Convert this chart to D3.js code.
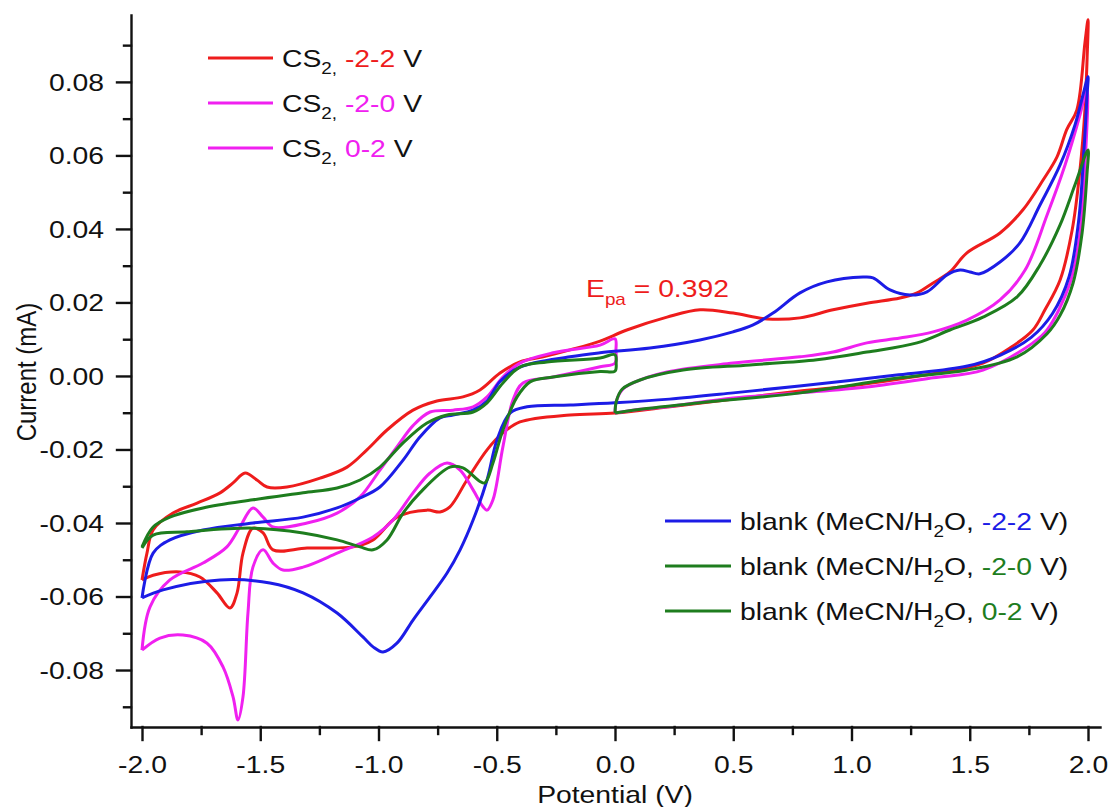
<!DOCTYPE html>
<html>
<head>
<meta charset="utf-8">
<script src="https://cdn.jsdelivr.net/npm/d3@7"></script>
<style>
  body { margin: 0; background: #ffffff; }
  svg text { font-family: "Liberation Sans", Arial, sans-serif; fill: #111; }
</style>
</head>
<body>
<svg id="chart"></svg>
<script>
// tick values and labels
const xMajor = [-2, -1.5, -1, -0.5, 0, 0.5, 1, 1.5, 2];
const xMinor = [-1.75, -1.25, -0.75, -0.25, 0.25, 0.75, 1.25, 1.75];
const xTickLabels = ["-2.0", "-1.5", "-1.0", "-0.5", "0.0", "0.5", "1.0", "1.5", "2.0"];
const yMajor = [-0.08, -0.06, -0.04, -0.02, 0, 0.02, 0.04, 0.06, 0.08];
const yMinor = [-0.09, -0.07, -0.05, -0.03, -0.01, 0.01, 0.03, 0.05, 0.07, 0.09];
const yTickLabels = ["-0.08", "-0.06", "-0.04", "-0.02", "0.00", "0.02", "0.04", "0.06", "0.08"];

// CS2, -2-2 V (red)
const cs2FullV = [-2.0, -1.979, -1.953, -1.869, -1.767, -1.670, -1.615, -1.564, -1.514, -1.471, -1.387, -1.247, -1.133, -1.049, -0.964, -0.854, -0.753, -0.643, -0.571, -0.486, -0.402, -0.304, -0.190, -0.063, 0.05, 0.22, 0.36, 0.50, 0.643, 0.782, 0.922, 1.065, 1.205, 1.277, 1.345, 1.416, 1.488, 1.628, 1.725, 1.81, 1.869, 1.91, 1.953, 1.987, 2.0,
  1.996, 1.987, 1.966, 1.933, 1.882, 1.818, 1.767, 1.670, 1.556, 1.416, 1.205, 0.994, 0.782, 0.5, 0.233, 0.0, -0.19, -0.402, -0.474, -0.541, -0.626, -0.698, -0.74, -0.795, -0.922, -1.023, -1.108, -1.302, -1.446, -1.488, -1.531, -1.573, -1.598, -1.628, -1.683, -1.755, -1.839, -1.953, -2.0];
const cs2FullI = [-0.0555, -0.0482, -0.0419, -0.0373, -0.0346, -0.0318, -0.0291, -0.0264, -0.0283, -0.0302, -0.0302, -0.0278, -0.0248, -0.0201, -0.0147, -0.0093, -0.0068, -0.0057, -0.0038, 0.0008, 0.0038, 0.0052, 0.0071, 0.0095, 0.0125, 0.016, 0.018, 0.0171, 0.0155, 0.0158, 0.018, 0.0198, 0.0212, 0.0226, 0.0253, 0.0283, 0.0335, 0.0389, 0.0452, 0.0533, 0.0596, 0.067, 0.0724, 0.0906, 0.0969,
  0.086, 0.0724, 0.056, 0.0397, 0.0261, 0.018, 0.0125, 0.0076, 0.0035, 0.0014, -0.0008, -0.0027, -0.0041, -0.0063, -0.0084, -0.0101, -0.0106, -0.0125, -0.0155, -0.0201, -0.0283, -0.0356, -0.037, -0.0365, -0.0384, -0.0446, -0.0465, -0.0468, -0.0473, -0.0427, -0.0414, -0.0482, -0.059, -0.0631, -0.059, -0.0547, -0.0533, -0.0542, -0.0555];

// CS2, -2-0 V (magenta)
const cs2NegV = [-2.0, -1.924, -1.827, -1.725, -1.657, -1.615, -1.594, -1.573, -1.552, -1.531, -1.488, -1.446, -1.404, -1.319, -1.175, -1.023, -0.939, -0.854, -0.782, -0.710, -0.655, -0.600, -0.558, -0.541, -0.516, -0.474, -0.431, -0.389, -0.262, -0.063, 0.0, 0.004, 0.0,
  -0.063, -0.262, -0.402, -0.474, -0.541, -0.600, -0.685, -0.782, -0.854, -0.922, -0.994, -1.078, -1.175, -1.302, -1.446, -1.488, -1.531, -1.586, -1.641, -1.742, -1.882, -1.966, -2.0];
const cs2NegI = [-0.0746, -0.0713, -0.0705, -0.0727, -0.0792, -0.0873, -0.0936, -0.0873, -0.0645, -0.052, -0.0473, -0.0509, -0.0528, -0.052, -0.0482, -0.0438, -0.0392, -0.0318, -0.0264, -0.0237, -0.0256, -0.031, -0.0356, -0.0365, -0.0337, -0.0193, -0.0065, -0.0019, -0.0003, 0.0025, 0.0035, 0.007, 0.0101,
  0.0084, 0.0063, 0.0035, -0.0003, -0.0057, -0.0084, -0.0093, -0.0098, -0.0135, -0.0193, -0.0256, -0.0329, -0.0373, -0.040, -0.0411, -0.0384, -0.0359, -0.0411, -0.0465, -0.0509, -0.0555, -0.0628, -0.0746];

// CS2, 0-2 V (magenta)
const cs2PosV = [0.0, 0.006, 0.03, 0.076, 0.22, 0.499, 0.782, 0.922, 1.065, 1.205, 1.345, 1.488, 1.628, 1.734, 1.827, 1.903, 1.966, 1.996,
  1.987, 1.966, 1.924, 1.827, 1.767, 1.556, 1.345, 1.065, 0.782, 0.5, 0.22, 0.076, 0.0];
const cs2PosI = [-0.0101, -0.0068, -0.0038, -0.0019, 0.0011, 0.0035, 0.0052, 0.0065, 0.009, 0.0103, 0.012, 0.0152, 0.0207, 0.0288, 0.0438, 0.0574, 0.071, 0.0784,
  0.0569, 0.0389, 0.0253, 0.0125, 0.009, 0.0016, -0.0005, -0.003, -0.0046, -0.006, -0.0084, -0.0093, -0.0101];

// blank (MeCN/H2O, -2-2 V) (blue)
const blankFullV = [-2.0, -1.953, -1.882, -1.742, -1.531, -1.319, -1.175, -1.078, -0.994, -0.896, -0.825, -0.740, -0.685, -0.600, -0.541, -0.486, -0.402, -0.19, -0.063, 0.148, 0.359, 0.499, 0.584, 0.668, 0.782, 0.896, 1.049, 1.091, 1.163, 1.247, 1.319, 1.404, 1.459, 1.501, 1.543, 1.628, 1.712, 1.797, 1.882, 1.945, 1.979, 2.0,
  1.996, 1.983, 1.96, 1.92, 1.85, 1.76, 1.63, 1.49, 1.2, 0.78, 0.5, 0.23, 0.0, -0.19, -0.372, -0.444, -0.499, -0.541, -0.600, -0.655, -0.710, -0.782, -0.854, -0.922, -0.981, -1.023, -1.066, -1.175, -1.319, -1.459, -1.670, -1.911, -2.0];
const blankFullI = [-0.0604, -0.0482, -0.0446, -0.0419, -0.040, -0.0384, -0.0359, -0.0332, -0.0302, -0.0229, -0.0166, -0.0114, -0.0106, -0.0093, -0.0068, -0.0015, 0.0024, 0.0052, 0.0063, 0.0076, 0.0098, 0.012, 0.0139, 0.0171, 0.0226, 0.0256, 0.0269, 0.0267, 0.0234, 0.022, 0.0229, 0.0275, 0.0288, 0.0283, 0.0278, 0.031, 0.0362, 0.0465, 0.0574, 0.0683, 0.0765, 0.0814,
  0.0765, 0.0615, 0.042, 0.027, 0.017, 0.0105, 0.0057, 0.0027, 0.0003, -0.0027, -0.0046, -0.0063, -0.0073, -0.0079, -0.0084, -0.0101, -0.0174, -0.0283, -0.0392, -0.0473, -0.0536, -0.0601, -0.0664, -0.0727, -0.0751, -0.0737, -0.071, -0.0645, -0.059, -0.0563, -0.0555, -0.0582, -0.0604];

// blank (MeCN/H2O, -2-0 V) (green)
const blankNegV = [-2.0, -1.953, -1.882, -1.742, -1.531, -1.319, -1.175, -1.078, -0.994, -0.896, -0.795, -0.710, -0.600, -0.541, -0.474, -0.402, -0.288, -0.063, 0.0, 0.005, 0.0,
  -0.063, -0.262, -0.359, -0.414, -0.474, -0.516, -0.550, -0.571, -0.643, -0.698, -0.825, -0.896, -0.964, -1.023, -1.078, -1.175, -1.319, -1.531, -1.810, -1.953, -2.0];
const blankNegI = [-0.0465, -0.0411, -0.0384, -0.0359, -0.0337, -0.0318, -0.0305, -0.0283, -0.0248, -0.0182, -0.0128, -0.0106, -0.0098, -0.0073, -0.0019, 0.0024, 0.0038, 0.0049, 0.0058, 0.0035, 0.0013,
  0.0012, -0.0003, -0.0016, -0.0057, -0.0147, -0.0237, -0.0291, -0.0287, -0.025, -0.0248, -0.0318, -0.0373, -0.0446, -0.0473, -0.0465, -0.0446, -0.0427, -0.0414, -0.0424, -0.0433, -0.0468];

// blank (MeCN/H2O, 0-2 V) (green)
const blankPosV = [0.0, 0.006, 0.03, 0.106, 0.288, 0.571, 0.854, 1.065, 1.277, 1.416, 1.556, 1.70, 1.797, 1.882, 1.945, 2.0,
  1.996, 1.975, 1.937, 1.882, 1.827, 1.70, 1.488, 1.205, 0.782, 0.359, 0.076, 0.0];
const blankPosI = [-0.0101, -0.0068, -0.0036, -0.0011, 0.0016, 0.003, 0.0044, 0.0065, 0.009, 0.0125, 0.016, 0.0215, 0.0302, 0.0411, 0.052, 0.0615,
  0.0552, 0.0389, 0.0253, 0.0165, 0.0115, 0.0052, 0.0016, -0.0005, -0.0046, -0.0073, -0.0093, -0.0101];

const rangeLabels = ["-2-2", "-2-0", "0-2"];
const epaValue = "0.392";

const red = "#ee1c1c", magenta = "#f020f0", blue = "#1c1ce6", green = "#1e7d1e";
const width = 1111, height = 807;
const stretch = 1.18;

const svg = d3.select("#chart").attr("width", width).attr("height", height);

const x = d3.scaleLinear().domain([-2 - 11 / 236.5, 2 + 12 / 236.5]).range([131, 1100]);
const y = d3.scaleLinear().domain([-0.0955, 0.0982]).range([727, 15]);

// curves
const series = [
  { v: cs2FullV, i: cs2FullI, color: red },
  { v: cs2NegV, i: cs2NegI, color: magenta },
  { v: cs2PosV, i: cs2PosI, color: magenta },
  { v: blankFullV, i: blankFullI, color: blue },
  { v: blankNegV, i: blankNegI, color: green },
  { v: blankPosV, i: blankPosI, color: green }
];

const line = d3.line()
  .x(d => x(d[0]))
  .y(d => y(d[1]))
  .curve(d3.curveCatmullRom.alpha(0.5));

svg.append("g").selectAll("path")
  .data(series)
  .enter()
  .append("path")
  .attr("d", d => line(d3.zip(d.v, d.i)))
  .attr("fill", "none")
  .attr("stroke", d => d.color)
  .attr("stroke-width", 3)
  .attr("stroke-linejoin", "round");

// axes
const xAxis = svg.append("g")
  .attr("transform", "translate(0,727)")
  .call(d3.axisBottom(x).tickValues(xMajor).tickFormat((d, k) => xTickLabels[k]).tickSize(13).tickSizeOuter(0));
xAxis.selectAll("text")
  .attr("y", 46).attr("dy", null)
  .attr("font-size", 24)
  .attr("fill", "#111")
  .attr("transform", `scale(${stretch},1)`);

const xMinorAxis = svg.append("g")
  .attr("transform", "translate(0,727)")
  .call(d3.axisBottom(x).tickValues(xMinor).tickFormat("").tickSize(7));
xMinorAxis.select(".domain").remove();

const yAxis = svg.append("g")
  .attr("transform", "translate(131,0)")
  .call(d3.axisLeft(y).tickValues(yMajor).tickFormat((d, k) => yTickLabels[k]).tickSize(14).tickSizeOuter(0));
yAxis.selectAll("text")
  .attr("x", -27 / stretch)
  .attr("dy", "0.35em")
  .attr("font-size", 24)
  .attr("fill", "#111")
  .attr("transform", `scale(${stretch},1)`);

const yMinorAxis = svg.append("g")
  .attr("transform", "translate(131,0)")
  .call(d3.axisLeft(y).tickValues(yMinor).tickFormat("").tickSize(7));
yMinorAxis.select(".domain").remove();

svg.selectAll(".domain, .tick line")
  .attr("stroke", "#111")
  .attr("stroke-width", 2.4)
  .attr("stroke-linecap", "square");

// axis titles
svg.append("g").attr("transform", "translate(615,803)")
  .append("text")
  .attr("text-anchor", "middle")
  .attr("font-size", 24)
  .attr("transform", `scale(${stretch},1)`)
  .text("Potential (V)");

svg.append("g").attr("transform", "translate(36,372) rotate(-90)")
  .append("text")
  .attr("text-anchor", "middle")
  .attr("font-size", 24)
  .attr("transform", `scale(1,${stretch})`)
  .text("Current (mA)");

// legends
function stretchedText(tx, ty) {
  return svg.append("g").attr("transform", `translate(${tx},${ty})`)
    .append("text")
    .attr("font-size", 24)
    .attr("transform", `scale(${stretch},1)`);
}

const topColors = [red, magenta, magenta];
const topRows = [58, 103, 148];
topRows.forEach((ry, k) => {
  svg.append("line")
    .attr("x1", 208).attr("x2", 273).attr("y1", ry).attr("y2", ry)
    .attr("stroke", topColors[k]).attr("stroke-width", 3);
  const t = stretchedText(282, ry + 8.5);
  t.append("tspan").text("CS");
  t.append("tspan").attr("font-size", 16).attr("dy", 7).text("2,");
  t.append("tspan").attr("dy", -7).text(" ");
  t.append("tspan").attr("fill", topColors[k]).text(rangeLabels[k]);
  t.append("tspan").text(" V");
});

const bottomColors = [blue, green, green];
const bottomRows = [521, 566, 611];
bottomRows.forEach((ry, k) => {
  svg.append("line")
    .attr("x1", 665).attr("x2", 731).attr("y1", ry).attr("y2", ry)
    .attr("stroke", bottomColors[k]).attr("stroke-width", 3);
  const t = stretchedText(740, ry + 8.5);
  t.append("tspan").text("blank (MeCN/H");
  t.append("tspan").attr("font-size", 16).attr("dy", 7).text("2");
  t.append("tspan").attr("dy", -7).text("O, ");
  t.append("tspan").attr("fill", bottomColors[k]).text(rangeLabels[k]);
  t.append("tspan").text(" V)");
});

// peak annotation
const epa = stretchedText(586, 297).style("fill", red);
epa.append("tspan").text("E");
epa.append("tspan").attr("font-size", 16).attr("dy", 8).text("pa");
epa.append("tspan").attr("dy", -8).text(" = " + epaValue);
</script>
</body>
</html>
